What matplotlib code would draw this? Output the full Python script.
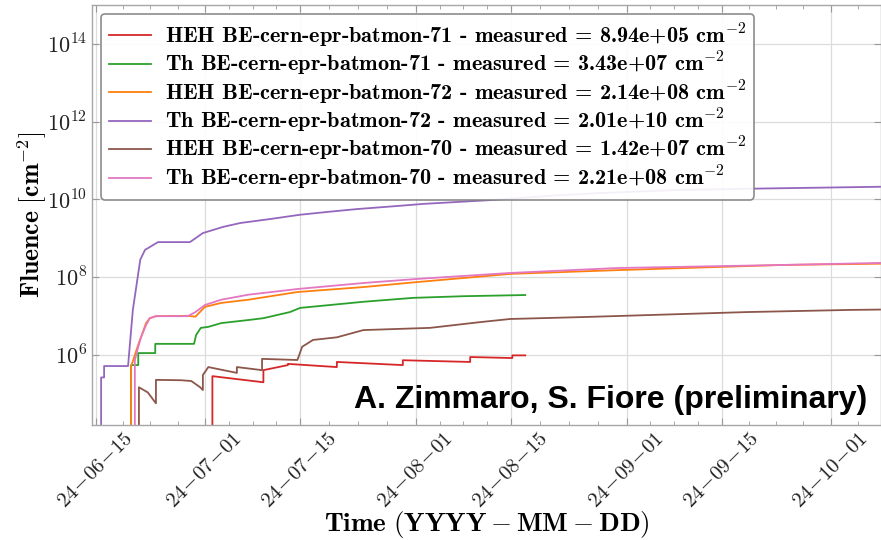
import datetime as dt
import math

import matplotlib
matplotlib.use("Agg")
import matplotlib.pyplot as plt
import matplotlib.dates as mdates
from matplotlib.ticker import FixedLocator, FuncFormatter, NullLocator

plt.rcParams['mathtext.fontset'] = 'cm'
plt.rcParams['font.family'] = ['cmr10', 'DejaVu Serif']
plt.rcParams['axes.unicode_minus'] = False
plt.rcParams['axes.formatter.use_mathtext'] = True

# day offsets counted from 2024-06-15 00:00, fluence in cm^-2
start = dt.datetime(2024, 6, 15)

heh71_days = [17.1, 17.1, 24.6, 24.6, 28.2, 28.2, 35.4, 35.4, 45.1, 45.1, 55.0, 55.0, 61.2, 61.2, 63.1]
heh71_vals = [1e3, 2.8e5, 1.95e5, 4.0e5, 5.4e5, 5.8e5, 4.8e5, 6.5e5, 5.4e5, 7.2e5, 6.5e5, 8.7e5, 8.2e5, 9.6e5, 9.6e5]

th71_days = [5.15, 5.15, 6.2, 6.2, 8.7, 8.7, 14.4, 14.7, 15.4, 16.5, 18.4, 22.4, 24.6, 28.5, 30.0,
             34.4, 39.3, 46.6, 54.0, 63.1]
th71_vals = [1e3, 5.4e5, 5.4e5, 1.1e6, 1.1e6, 1.9e6, 1.9e6, 3.2e6, 4.9e6, 5.2e6, 6.5e6, 7.8e6, 8.7e6,
             1.25e7, 1.6e7, 1.9e7, 2.3e7, 2.9e7, 3.2e7, 3.43e7]

heh72_days = [5.15, 5.15, 5.7, 6.2, 6.6, 7.35, 7.9, 8.8, 13.5, 14.6, 16.0, 18.4, 22.4, 29.6, 39.3,
              47.2, 60.9, 76.6, 101.0, 115.4]
heh72_vals = [1e3, 5.0e5, 9.8e5, 1.8e6, 2.8e6, 6.5e6, 8.7e6, 9.8e6, 1.0e7, 9.5e6, 1.7e7, 2.15e7,
              2.6e7, 4.1e7, 5.5e7, 7.4e7, 1.2e8, 1.5e8, 2.04e8, 2.2e8]

th72_days = [0.74, 0.74, 1.18, 1.18, 4.7, 5.4, 6.5, 7.2, 7.9, 9.1, 13.8, 15.7, 18.7, 21.2, 25.6,
             30.0, 34.4, 38.4, 44.7, 48.1, 57.9, 66.8, 74.1, 85.9, 98.7, 115.4]
th72_vals = [1e3, 2.6e5, 2.6e5, 5.1e5, 5.1e5, 1.4e7, 2.8e8, 5.0e8, 5.9e8, 7.9e8, 7.9e8, 1.35e9,
             1.95e9, 2.45e9, 3.1e9, 4.0e9, 4.8e9, 5.6e9, 6.8e9, 7.6e9, 9.5e9, 1.23e10, 1.45e10,
             1.74e10, 1.9e10, 2.1e10]

heh70_days = [6.3, 6.3, 7.6, 8.8, 8.8, 12.5, 14.0, 15.3, 15.7, 15.7, 16.5, 20.7, 20.7, 24.4, 24.4,
              29.6, 30.3, 31.9, 35.4, 39.3, 49.1, 56.5, 60.9, 71.6, 81.5, 95.7, 110.9, 115.4]
heh70_vals = [1e3, 1.45e5, 1.07e5, 5.6e4, 2.25e5, 2.2e5, 2.1e5, 1.45e5, 1.23e5, 3.0e5, 4.8e5, 3.4e5,
              4.8e5, 4.0e5, 7.8e5, 7.3e5, 1.6e6, 2.4e6, 2.8e6, 4.3e6, 4.9e6, 6.9e6, 8.3e6, 9.3e6,
              1.05e7, 1.25e7, 1.42e7, 1.45e7]

th70_days = [5.7, 5.7, 6.2, 6.6, 7.35, 7.9, 8.8, 13.5, 14.6, 16.0, 18.4, 22.4, 29.6, 39.3, 47.2,
             60.9, 76.6, 101.0, 115.4]
th70_vals = [1e3, 7.2e5, 1.6e6, 2.8e6, 5.8e6, 8.7e6, 9.8e6, 9.8e6, 1.25e7, 1.9e7, 2.6e7, 3.5e7,
             4.9e7, 7.0e7, 8.9e7, 1.27e8, 1.7e8, 2.04e8, 2.3e8]

labels = [
    'HEH BE-cern-epr-batmon-71 - measured = 8.94e+05 cm$^{-2}$',
    'Th BE-cern-epr-batmon-71 - measured = 3.43e+07 cm$^{-2}$',
    'HEH BE-cern-epr-batmon-72 - measured = 2.14e+08 cm$^{-2}$',
    'Th BE-cern-epr-batmon-72 - measured = 2.01e+10 cm$^{-2}$',
    'HEH BE-cern-epr-batmon-70 - measured = 1.42e+07 cm$^{-2}$',
    'Th BE-cern-epr-batmon-70 - measured = 2.21e+08 cm$^{-2}$',
]
colors = ['#d62728', '#2ca02c', '#ff7f0e', '#9467bd', '#8c564b', '#e377c2']
series = [(heh71_days, heh71_vals), (th71_days, th71_vals), (heh72_days, heh72_vals),
          (th72_days, th72_vals), (heh70_days, heh70_vals), (th70_days, th70_vals)]

major_dates = ['2024-06-15', '2024-07-01', '2024-07-15', '2024-08-01', '2024-08-15',
               '2024-09-01', '2024-09-15', '2024-10-01']
y_exps = [6, 8, 10, 12, 14]


def to_dates(days):
    return [start + dt.timedelta(days=d) for d in days]


fig = plt.figure(figsize=(8.81, 5.4), dpi=100)
ax = fig.add_axes([92 / 881, 115 / 540, 789 / 881, 420 / 540])

for (d, v), c, lab in zip(series, colors, labels):
    ax.plot(to_dates(d), v, color=c, lw=1.3, label=lab)

ax.set_yscale('log')
ax.set_ylim(1.55e4, 1.0e15)
ax.set_xlim(start + dt.timedelta(days=-0.6), start + dt.timedelta(days=115.4))

# ticks
majors = [mdates.date2num(dt.datetime.strptime(s, '%Y-%m-%d')) for s in major_dates]
minors = []
for a, b in zip(majors[:-1], majors[1:]):
    minors += [a + (b - a) * k / 4 for k in range(1, 4)]
minors.append(majors[-1] + (majors[-1] - majors[-2]) / 4)
ax.xaxis.set_major_locator(FixedLocator(majors))
ax.xaxis.set_minor_locator(FixedLocator(minors))
ax.xaxis.set_major_formatter(mdates.DateFormatter('$%y\\!-\\!%m\\!-\\!%d$'))
ax.yaxis.set_major_locator(FixedLocator([10.0 ** e for e in y_exps]))
ax.yaxis.set_minor_locator(NullLocator())
ax.yaxis.set_major_formatter(FuncFormatter(lambda v, p: r'$10^{%d}$' % round(math.log10(v))))

ax.tick_params(axis='both', which='both', direction='in', top=True, right=True,
               color='0.6', labelcolor='#222222')
ax.tick_params(axis='y', labelsize=16)
ax.tick_params(axis='x', labelsize=15, pad=3)
ax.tick_params(which='major', length=5)
ax.tick_params(which='minor', length=3)
plt.setp(ax.get_xticklabels(), rotation=45)

ax.grid(True, which='major', color='#dcdcdc', lw=0.9)
for sp in ax.spines.values():
    sp.set_color('0.65')
    sp.set_linewidth(1.0)

ax.set_xlabel(r'$\mathbf{Time}\ (\mathbf{YYYY} - \mathbf{MM} - \mathbf{DD})$', fontsize=19.5)
ax.set_ylabel(r'$\mathbf{Fluence}\ [\mathbf{cm}^{-2}]$', fontsize=18.5)
ax.xaxis.set_label_coords(0.5, -100 / 420)
ax.xaxis.label.set_va('center')
ax.yaxis.set_label_coords(-60 / 789, 0.5)
ax.yaxis.label.set_va('center')

leg = ax.legend(loc='upper left', prop={'family': 'cmb10', 'size': 16}, handlelength=1.9,
                handletextpad=0.65, labelspacing=0.02, borderaxespad=0.4, borderpad=0.35,
                fancybox=True, framealpha=0.9, edgecolor='0.5')
leg.get_frame().set_linewidth(1.2)

ax.text(0.983, 0.06, 'A. Zimmaro, S. Fiore (preliminary)', transform=ax.transAxes,
        ha='right', va='center', fontsize=23, fontweight='bold', family='Liberation Sans')

fig.savefig('out.png', dpi=100)
